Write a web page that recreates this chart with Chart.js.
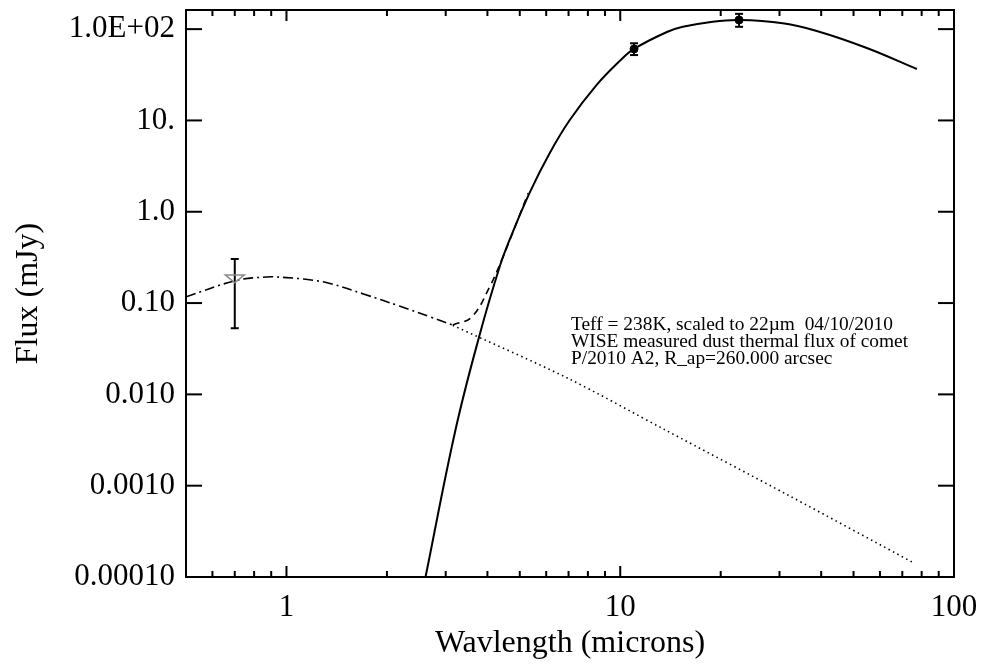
<!DOCTYPE html>
<html>
<head>
<meta charset="utf-8">
<script src="https://cdn.jsdelivr.net/npm/chart.js@4.4.1/dist/chart.umd.min.js"></script>
<style>
  html, body { margin: 0; padding: 0; background: #fff; }
</style>
</head>
<body>
<canvas id="sed" width="985" height="668"></canvas>
<script>
// thermal model, solid line (microns, mJy)
const thermWave = [2.61, 3.21, 3.79, 4.35, 4.66, 5.35, 6.15, 7.06, 8.5, 9.97, 11.0, 13.8, 15.4, 18.7, 22.7, 30.7, 38.8, 54.8, 77.4];
const thermFlux = [0.0001, 0.0041, 0.0447, 0.248, 0.491, 1.61, 4.4, 10.1, 24.5, 44.9, 60.7, 93, 106, 120, 126, 116, 95.5, 62.2, 36.6];

// reflected + thermal, dash-dot part (short wavelengths)
const totalWaveA = [0.5, 0.7, 0.87, 1.0, 1.17, 1.35, 1.71, 2.18, 2.7, 3.15];
const totalFluxA = [0.117, 0.175, 0.193, 0.19, 0.18, 0.164, 0.125, 0.0928, 0.0703, 0.0575];

// reflected + thermal, dashed part
const totalWaveB = [3.15, 3.59, 4.06, 4.44, 4.76, 5.3];
const totalFluxB = [0.0575, 0.0705, 0.15, 0.312, 0.586, 1.6];

// reflected component, dotted
const reflWave = [3.15, 6.92, 13.6, 31.8, 75.9];
const reflFlux = [0.057, 0.0152, 0.0041, 0.00079, 0.000142];

// WISE measurements with error bars
const obsWave = [11.0, 22.7];
const obsFlux = [60.7, 126];
const obsLow = [52, 106];
const obsHigh = [70, 147];

// upper limit point
const limWave = [0.70];
const limFlux = [0.184];
const limLow = [0.053];
const limHigh = [0.304];

// axes
const xMajor = [1, 10, 100];
const xTickLabels = ['1', '10', '100'];
const xMinor = [0.6, 0.7, 0.8, 0.9, 2, 3, 4, 5, 6, 7, 8, 9, 20, 30, 40, 50, 60, 70, 80, 90];
const yMajor = [0.0001, 0.001, 0.01, 0.1, 1, 10, 100];
const yTickLabels = ['0.00010', '0.0010', '0.010', '0.10', '1.0', '10.', '1.0E+02'];

const noteLines = [
  'Teff = 238K, scaled to 22\u00b5m  04/10/2010',
  'WISE measured dust thermal flux of comet',
  'P/2010 A2, R_ap=260.000 arcsec'
];

function pts(xs, ys) {
  return xs.map((v, i) => ({ x: v, y: ys[i] }));
}

const serif = '"Liberation Serif", "Times New Roman", serif';

function noPad(s) {
  s.paddingTop = 0;
  s.paddingBottom = 0;
  s.paddingLeft = 0;
  s.paddingRight = 0;
}

// box, inward ticks, error bars and the note
const framePlugin = {
  id: 'frame',
  afterDatasetsDraw(chart) {
    const { ctx, chartArea: a, scales: { x, y } } = chart;
    ctx.save();
    ctx.strokeStyle = '#000';
    ctx.lineWidth = 2;
    ctx.lineCap = 'butt';
    function seg(x1, y1, x2, y2) {
      ctx.beginPath();
      ctx.moveTo(x1, y1);
      ctx.lineTo(x2, y2);
      ctx.stroke();
    }
    ctx.strokeRect(a.left, a.top, a.right - a.left, a.bottom - a.top);

    xMajor.forEach(v => {
      const px = x.getPixelForValue(v);
      seg(px, a.bottom, px, a.bottom - 11);
      seg(px, a.top, px, a.top + 11);
    });
    xMinor.forEach(v => {
      const px = x.getPixelForValue(v);
      seg(px, a.bottom, px, a.bottom - 6);
      seg(px, a.top, px, a.top + 6);
    });
    yMajor.forEach(v => {
      const py = y.getPixelForValue(v);
      seg(a.left, py, a.left + 16, py);
      seg(a.right, py, a.right - 16, py);
    });

    // error bars
    function errBar(wv, lo, hi) {
      const px = x.getPixelForValue(wv);
      const p1 = y.getPixelForValue(lo);
      const p2 = y.getPixelForValue(hi);
      seg(px, p1, px, p2);
      seg(px - 4, p1, px + 4, p1);
      seg(px - 4, p2, px + 4, p2);
    }
    obsWave.forEach((w, i) => errBar(w, obsLow[i], obsHigh[i]));
    limWave.forEach((w, i) => errBar(w, limLow[i], limHigh[i]));

    // upper limit triangle (grey, pointing down)
    limWave.forEach((w, i) => {
      const px = x.getPixelForValue(w);
      const py = y.getPixelForValue(limFlux[i]);
      ctx.strokeStyle = '#8a8a8a';
      ctx.lineWidth = 1.5;
      ctx.beginPath();
      ctx.moveTo(px - 9.5, py - 4);
      ctx.lineTo(px + 9.5, py - 4);
      ctx.lineTo(px, py + 4);
      ctx.closePath();
      ctx.stroke();
    });

    ctx.fillStyle = '#000';
    ctx.font = '19.4px ' + serif;
    ctx.textBaseline = 'alphabetic';
    ctx.textAlign = 'left';
    noteLines.forEach((t, i) => ctx.fillText(t, a.left + 385, a.top + 320 + i * 17));
    ctx.restore();
  }
};

new Chart(document.getElementById('sed'), {
  type: 'scatter',
  data: {
    datasets: [
      {
        data: pts(thermWave, thermFlux),
        showLine: true,
        borderColor: '#000',
        borderWidth: 2,
        pointRadius: 0,
        tension: 0.4
      },
      {
        data: pts(totalWaveA, totalFluxA),
        showLine: true,
        borderColor: '#000',
        borderWidth: 1.6,
        borderDash: [10, 4, 2, 4],
        pointRadius: 0,
        tension: 0.4
      },
      {
        data: pts(totalWaveB, totalFluxB),
        showLine: true,
        borderColor: '#000',
        borderWidth: 1.6,
        borderDash: [7, 5],
        pointRadius: 0,
        tension: 0.4
      },
      {
        data: pts(reflWave, reflFlux),
        showLine: true,
        borderColor: '#000',
        borderWidth: 1.6,
        borderDash: [1.5, 3.5],
        pointRadius: 0,
        tension: 0.3
      },
      {
        data: pts(obsWave, obsFlux),
        showLine: false,
        pointRadius: 4,
        pointStyle: 'circle',
        backgroundColor: '#000',
        borderColor: '#000'
      }
    ]
  },
  options: {
    responsive: false,
    animation: false,
    devicePixelRatio: 1,
    layout: { padding: { left: 0, right: 31, top: 10, bottom: 0 } },
    plugins: {
      legend: { display: false },
      tooltip: { enabled: false }
    },
    scales: {
      x: {
        type: 'logarithmic',
        min: 0.5,
        max: 100,
        grid: { display: false, drawTicks: false },
        border: { display: false },
        afterBuildTicks: s => { s.ticks = xMajor.map(v => ({ value: v })); },
        afterFit: s => { s.height = 91; noPad(s); },
        ticks: {
          autoSkip: false,
          maxRotation: 0,
          padding: 12,
          color: '#000',
          font: { family: serif, size: 31 },
          callback: (v, i) => xTickLabels[i]
        },
        title: {
          display: true,
          text: 'Wavlength (microns)',
          color: '#000',
          font: { family: serif, size: 32 },
          padding: { top: 0, bottom: 5 }
        }
      },
      y: {
        type: 'logarithmic',
        min: 0.0001,
        max: 162,
        grid: { display: false, drawTicks: false },
        border: { display: false },
        afterBuildTicks: s => { s.ticks = yMajor.map(v => ({ value: v })); },
        afterFit: s => { s.width = 186; noPad(s); },
        ticks: {
          autoSkip: false,
          padding: 11,
          color: '#000',
          font: { family: serif, size: 31 },
          callback: (v, i) => yTickLabels[i]
        },
        title: {
          display: true,
          text: 'Flux (mJy)',
          color: '#000',
          font: { family: serif, size: 32 },
          padding: { top: 9, bottom: 0 }
        }
      }
    }
  },
  plugins: [framePlugin]
});
</script>
</body>
</html>
